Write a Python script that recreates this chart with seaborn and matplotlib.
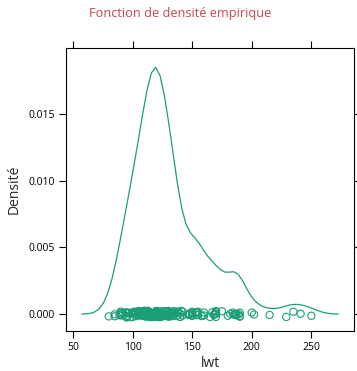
import numpy as np
import pandas as pd
import matplotlib
matplotlib.use("Agg")
import matplotlib.pyplot as plt
import seaborn as sns

# Mother's weight at last menstrual period (lwt), as read from the rug of points
lwt = [
    182, 155, 105, 108, 107, 124, 118, 103, 123, 113, 95, 150, 95, 107, 100, 100,
    98, 118, 120, 120, 121, 100, 202, 120, 120, 167, 122, 150, 168, 113, 113, 90,
    121, 155, 125, 140, 138, 124, 215, 109, 185, 189, 130, 160, 90, 90, 132, 132,
    115, 85, 120, 128, 130, 95, 115, 110, 110, 153, 103, 119, 119, 119, 110, 140,
    133, 169, 115, 250, 141, 158, 112, 150, 115, 112, 135, 229, 140, 134, 121, 190,
    131, 170, 110, 127, 123, 120, 105, 130, 175, 125, 133, 134, 235, 95, 135, 135,
    154, 147, 147, 137, 110, 184, 110, 110, 120, 241, 112, 169, 120, 170, 186, 120,
    130, 117, 170, 134, 135, 130, 120, 95, 158, 160, 115, 129, 130, 120, 170, 120,
    116, 123,
    120, 130, 187, 105, 85, 150, 97, 128, 132, 165, 105, 91, 115, 130, 92, 150,
    200, 155, 103, 125, 89, 102, 112, 117, 138, 130, 120, 154, 190, 180, 130, 110,
    105, 148, 110, 106, 121, 122, 96, 102, 110, 187, 122, 105, 115, 120, 142, 130,
    120, 120, 110, 120, 154, 105, 190, 101, 95, 100, 94, 142, 130, 80,
]

title = "Fonction de densité empirique"
xlabel = "lwt"
ylabel = "Densité"
xticks = [50, 100, 150, 200, 250]
yticks = [0.000, 0.005, 0.010, 0.015]

green = "#1B9E77"
df = pd.DataFrame({"lwt": lwt, "y": np.zeros(len(lwt))})

sns.set_style("white")
plt.rcParams["font.family"] = ["Open Sans", "DejaVu Sans"]

fig = plt.figure(figsize=(3.57, 3.71), dpi=100)
ax = fig.add_axes([66 / 357, 1 - 331 / 371, (354 - 66) / 357, (331 - 48) / 371])

data = np.asarray(lwt, dtype=float)
n = len(data)
sd = data.std(ddof=1)
iqr = np.subtract(*np.percentile(data, [75, 25]))
bw = 0.9 * min(sd, iqr / 1.34) * n ** (-0.2)
sns.kdeplot(data=df, x="lwt", ax=ax, color=green, linewidth=0.9,
            bw_method=bw / sd, cut=3, gridsize=60)

np.random.seed(3)
sns.stripplot(data=df, x="lwt", y="y", orient="h", native_scale=True,
              jitter=0.00025, ax=ax, marker="o", facecolor="none",
              edgecolor=green, linewidth=0.8, size=5.2, color=green)
for c in ax.collections:
    c.set_facecolor("none")
    c.set_edgecolor(green)

ax.set_xlim(44.2, 285.8)
ax.set_ylim(-0.00127, 0.01994)
ax.set_xticks(xticks)
ax.set_xticklabels([str(t) for t in xticks])
ax.set_yticks(yticks)
ax.set_yticklabels([f"{t:.3f}" for t in yticks])
ax.tick_params(axis="both", which="both", direction="out", length=5, width=0.8,
               labelsize=7.5, colors="black", pad=3,
               top=True, right=True, labeltop=False, labelright=False,
               bottom=True, left=True)
for s in ax.spines.values():
    s.set_visible(True)
    s.set_color("black")
    s.set_linewidth(0.8)

ax.set_xlabel(xlabel, fontsize=10, labelpad=2)
ax.set_ylabel(ylabel, fontsize=10, labelpad=5)
fig.text(180 / 357, 1 - 14 / 371, title, ha="center", va="center",
         fontsize=9.2, color="#C8464B")

fig.savefig("out.png", dpi=100)
